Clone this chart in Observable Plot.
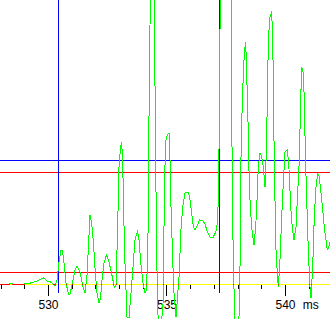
<!DOCTYPE html>
<html><head><meta charset="utf-8">
<script src="https://cdn.jsdelivr.net/npm/d3@7"></script>
<script src="https://cdn.jsdelivr.net/npm/@observablehq/plot@0.6"></script>
<style>html,body{margin:0;padding:0;background:#fff;overflow:hidden}</style>
</head><body><div id="chart"></div>
<script>
// Signal samples (time in ms, amplitude in arbitrary units)
const timeMs = [527.954,528.334,528.376,528.460,528.503,528.967,529.009,529.178,529.346,529.515,
529.642,529.789,529.895,529.979,530.085,530.190,530.275,530.359,530.443,530.528,
530.591,530.654,530.739,530.844,530.908,530.992,531.119,531.203,531.330,531.456,
531.541,531.625,531.688,531.751,531.815,531.899,531.962,532.047,532.131,532.194,
532.257,532.342,532.448,532.532,532.659,532.785,532.848,532.912,532.975,533.038,
533.080,533.123,533.165,533.207,533.270,533.313,533.397,533.502,533.587,533.650,
533.756,533.819,533.903,533.988,534.072,534.135,534.178,534.220,534.241,534.283,
534.346,534.431,534.473,534.515,534.557,534.600,534.642,534.726,534.844,534.874,
534.903,534.958,535.013,535.085,535.127,535.169,535.241,535.296,535.380,535.435,
535.520,535.579,535.663,535.760,535.899,535.971,536.043,536.110,536.182,536.254,
536.372,536.519,536.604,536.675,536.815,536.941,537.097,537.165,537.207,537.249,
537.490,537.722,537.743,537.798,537.870,537.954,538.059,538.081,538.123,538.178,
538.262,538.321,538.363,538.431,538.473,538.545,538.599,538.671,538.743,538.798,
538.853,538.924,538.996,539.064,539.135,539.165,539.207,539.249,539.275,539.346,
539.410,539.460,539.485,539.515,539.557,539.600,539.655,539.697,539.768,539.840,
539.908,539.979,540.084,540.160,540.219,540.287,540.359,540.443,540.498,540.582,
540.641,540.684,540.751,540.793,540.836,540.895,540.962,541.034,541.076,541.148,
541.215,541.287,541.359,541.426,541.485,541.570,541.637,541.709,541.764,541.823,
541.878];
const amplitude = [0,0,0.01,0.01,0,0,0.01,0.012,0.02,0.035,
0.05,0.065,0.045,0.03,0.025,0.005,-0.01,0.045,0.225,0.345,
0.335,0.215,0.015,-0.095,-0.095,-0.005,0.145,0.18,0.125,-0.025,
-0.085,0.095,0.395,0.695,0.625,0.415,0.165,-0.085,-0.185,-0.135,
0.045,0.215,0.295,0.245,0.115,-0.035,-0.015,0.515,1.175,1.365,
1.415,1.295,0.845,0.345,-0.055,-0.325,-0.335,-0.025,0.245,0.445,
0.535,0.445,0.195,0.015,-0.085,-0.055,0.245,0.775,1.675,2.595,
3.245,3.245,2.545,1.445,0.445,-0.155,-0.455,-0.505,-0.155,0.575,
1.115,1.445,1.495,1.515,1.245,0.775,0.245,-0.085,-0.325,-0.155,
0.115,0.515,0.775,0.915,0.925,0.845,0.715,0.575,0.545,0.575,
0.645,0.635,0.605,0.545,0.475,0.47,0.545,0.825,1.575,2.95,
3.45,3.05,1.375,0.175,-0.355,-0.555,-0.255,0.175,1.275,1.845,
2.315,2.425,2.115,1.515,0.975,0.675,0.515,0.395,0.575,0.845,
1.175,1.315,1.275,1.175,0.975,1.115,1.515,2.015,2.445,2.675,
2.725,2.515,2.015,1.445,0.845,0.345,0.115,-0.025,0.245,0.675,
1.015,1.325,1.345,1.115,0.775,0.575,0.445,0.575,0.845,1.245,
1.845,2.175,2.115,1.845,1.345,0.845,0.345,-0.025,-0.135,0.175,
0.675,0.975,1.115,1.075,0.945,0.745,0.575,0.445,0.345,0.375,
0.425];

// Threshold lines and cursors
const thresholdValues = [1.24, 1.12, 0.12];
const thresholdColors = ["#0000ff", "#ff0000", "#ff0000"];
const baselineValue = [0];
const cursorTimes = [530.422, 537.215];

// Ticks and labels
const minorTicks = [528,529,530,531,532,533,534,535,536,537,538,539,540,541];
const majorTicks = [530, 535, 540];
const majorTickLabels = ["530", "535", "540"];
const unitTick = [541];
const unitLabel = "ms";

const signal = timeMs.map((t, i) => ({t, v: amplitude[i]}));
const thresholds = thresholdValues.map((v, i) => ({v, c: thresholdColors[i]}));

const plot = Plot.plot({
  width: 330, height: 319,
  margin: 0,
  style: {background: "#fff", fontFamily: "'Liberation Sans', Arial, sans-serif", fontSize: "12px", color: "#000"},
  x: {domain: [527.975, 541.899], axis: null},
  y: {domain: [-0.35, 2.84], axis: null},
  marks: [
    Plot.ruleY(thresholds, {y: "v", stroke: "c", strokeWidth: 1, shapeRendering: "crispEdges"}),
    Plot.ruleY(baselineValue, {stroke: "#ffff00", strokeWidth: 1, shapeRendering: "crispEdges"}),
    Plot.ruleX(cursorTimes, {y1: -0.09, y2: 2.84, stroke: "#0000ff", strokeWidth: 1, shapeRendering: "crispEdges"}),
    Plot.ruleX(minorTicks, {y1: -0.01, y2: -0.05, stroke: "#000", strokeWidth: 1, shapeRendering: "crispEdges"}),
    Plot.ruleX(majorTicks, {y1: -0.01, y2: -0.12, stroke: "#000", strokeWidth: 1, shapeRendering: "crispEdges"}),
    Plot.text(majorTicks, {x: d => d, y: -0.21, text: (d, i) => majorTickLabels[i], fill: "#000", textAnchor: "middle", lineAnchor: "middle"}),
    Plot.text(unitTick, {x: d => d, y: -0.21, text: () => unitLabel, dx: 1.5, fill: "#000", textAnchor: "middle", lineAnchor: "middle"}),
    Plot.line(signal, {x: "t", y: "v", stroke: "#00ff00", strokeWidth: 1, curve: "linear", shapeRendering: "crispEdges"}),
    Plot.line(signal, {x: "t", y: "v", stroke: "#ff0000", strokeWidth: 1, curve: "linear", shapeRendering: "crispEdges"})
  ]
});

// Where the trace lies on the yellow baseline it shows red: clip the red copy to the baseline row
const lines = plot.querySelectorAll('g[aria-label="line"]');
if (lines.length === 2) {
  const y0 = plot.scale("y").apply(baselineValue[0]);
  const ns = "http://www.w3.org/2000/svg";
  const defs = document.createElementNS(ns, "defs");
  const cp = document.createElementNS(ns, "clipPath");
  cp.setAttribute("id", "baseline-row");
  const r = document.createElementNS(ns, "rect");
  r.setAttribute("x", -10); r.setAttribute("width", 400);
  r.setAttribute("y", y0 - 0.5); r.setAttribute("height", 1);
  cp.appendChild(r); defs.appendChild(cp); plot.insertBefore(defs, plot.firstChild);
  lines[1].setAttribute("clip-path", "url(#baseline-row)");
}
document.getElementById("chart").appendChild(plot);
</script>
</body></html>
